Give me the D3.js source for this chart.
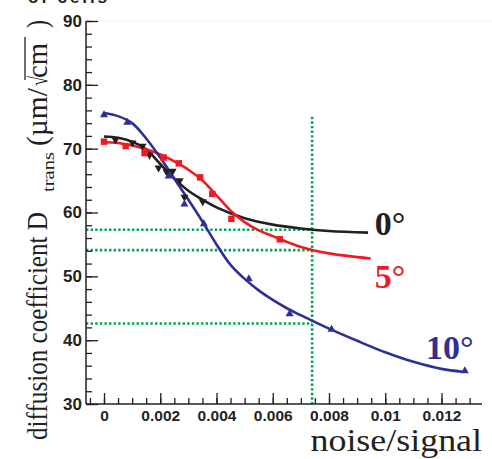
<!DOCTYPE html>
<html><head><meta charset="utf-8">
<script src="https://cdn.jsdelivr.net/npm/d3@7"></script>
<style>body{margin:0;background:#fff}svg{display:block}</style>
</head><body>
<svg id="c" width="492" height="459"></svg>
<script>
// ---- data ----
const yTicks = [30, 40, 50, 60, 70, 80, 90];
const xTicks = [0, 0.002, 0.004, 0.006, 0.008, 0.010, 0.012];
const xTickLabels = ["0", "0.002", "0.004", "0.006", "0.008", "0.01", "0.012"];

// markers
const black0X = [0.00041, 0.00101, 0.00137, 0.00162, 0.00194, 0.00222, 0.00244, 0.00269, 0.00286, 0.00351];
const black0Y = [71.4, 70.9, 70.4, 69.0, 67.0, 66.4, 66.5, 65.0, 62.4, 61.7];
const red5X = [0, 0.00077, 0.00144, 0.00212, 0.00266, 0.00342, 0.00385, 0.00453, 0.00625];
const red5Y = [71.1, 70.4, 69.3, 68.6, 67.7, 65.5, 62.9, 59.0, 55.8];
const blue10X = [0, 0.00083, 0.0023, 0.00286, 0.00355, 0.00515, 0.0066, 0.00809, 0.01283];
const blue10Y = [75.3, 74.1, 65.7, 61.3, 58.2, 49.6, 44.1, 41.7, 35.2];

// fitted curves
const fit0X = [0, 0.0005, 0.001, 0.0015, 0.002, 0.0025, 0.003, 0.0035, 0.004, 0.005, 0.006, 0.007, 0.008, 0.00939];
const fit0Y = [71.9, 71.7, 71.1, 69.9, 67.6, 65.3, 63.4, 62.0, 60.8, 59.1, 58.1, 57.5, 57.1, 56.85];
const fit5X = [0, 0.0005, 0.001, 0.0015, 0.002, 0.0025, 0.003, 0.0035, 0.004, 0.0045, 0.005, 0.0055, 0.006, 0.0065, 0.007, 0.008, 0.00948];
const fit5Y = [71.0, 70.9, 70.5, 69.9, 69.1, 68.0, 66.7, 65.0, 62.7, 60.3, 58.5, 57.2, 56.3, 55.4, 54.6, 53.6, 52.8];
const fit10X = [0, 0.0005, 0.001, 0.0015, 0.002, 0.0025, 0.003, 0.0035, 0.004, 0.0045, 0.005, 0.0055, 0.006, 0.0065, 0.007, 0.008, 0.009, 0.010, 0.011, 0.012, 0.01276];
const fit10Y = [75.6, 75.1, 74.0, 71.6, 68.6, 65.3, 62.0, 58.6, 55.0, 51.8, 49.6, 47.8, 46.3, 45.0, 43.9, 41.8, 39.9, 38.1, 36.6, 35.5, 35.06];

// guide (dotted) lines
const guideX = 0.0074;
const guideXTop = 75;
const guideYs = [57.3, 54.1, 42.6];

const seriesNames = ["0°", "5°", "10°"];
const labelX = [0.00963, 0.00963, 0.01145];
const labelY = [56.5, 48.2, 37.05];

const xAxisExtent = [-0.00064, 0.01344];

// ---- drawing ----
const svg = d3.select("#c");
const x = d3.scaleLinear().domain([0, 0.012]).range([104, 441.5]);
const y = d3.scaleLinear().domain([30, 90]).range([404, 21]);
const colors = ["#231f20", "#ed1c24", "#2e3192"];
const green = "#00a651";
const serif = "'Liberation Serif', 'Times New Roman', Times, serif";
const sans = "'Liberation Sans', Arial, Helvetica, sans-serif";

// clipped top text
svg.append("text").attr("x", 28).attr("y", 3)
  .attr("font-family", sans).attr("font-weight", "bold")
  .attr("font-size", 17).attr("textLength", 79).attr("fill", "#231f20").text("of cells");

// faint frame top
svg.append("line").attr("x1", x(xAxisExtent[0])).attr("x2", 492)
  .attr("y1", y(90)).attr("y2", y(90)).attr("stroke", "#eeeeee").attr("stroke-width", 1);

// guide lines
const g = svg.append("g").attr("stroke", green).attr("stroke-width", 2.6)
  .attr("stroke-dasharray", "2.4,2.2").attr("fill", "none");
g.append("line").attr("x1", x(guideX)).attr("x2", x(guideX)).attr("y1", y(guideXTop)).attr("y2", y(30));
guideYs.forEach(v => g.append("line").attr("x1", x(xAxisExtent[0])).attr("x2", x(guideX))
  .attr("y1", y(v)).attr("y2", y(v)));

// axes
const xMinor = d3.range(-0.0005, 0.01301, 0.0005);
svg.append("g").attr("transform", `translate(0,${y(30)})`)
  .call(d3.axisBottom(x).tickValues(xMinor).tickSize(-6).tickFormat(""))
  .call(s => s.select(".domain").remove());
const yMinor = d3.range(30, 90.01, 2);
svg.append("g").attr("transform", `translate(${x(xAxisExtent[0])},0)`)
  .call(d3.axisLeft(y).tickValues(yMinor).tickSize(-6).tickFormat(""))
  .call(s => s.select(".domain").remove());

const xa = svg.append("g").attr("transform", `translate(0,${y(30)})`)
  .call(d3.axisBottom(x).tickValues(xTicks).tickSize(-11).tickPadding(6)
    .tickFormat((d, i) => xTickLabels[i]));
xa.select(".domain").remove();
xa.selectAll("text").attr("font-family", sans).attr("font-weight", "bold")
  .attr("font-size", 15.5).attr("fill", "#231f20");

const ya = svg.append("g").attr("transform", `translate(${x(xAxisExtent[0])},0)`)
  .call(d3.axisLeft(y).tickValues(yTicks).tickSize(-12).tickPadding(4));
ya.select(".domain").remove();
ya.selectAll("text").attr("font-family", sans).attr("font-weight", "bold")
  .attr("font-size", 17).attr("fill", "#231f20");
svg.selectAll(".tick line").attr("stroke", "#231f20").attr("stroke-width", 1.3);

// axis lines
svg.append("line").attr("x1", x(xAxisExtent[0])).attr("x2", x(xAxisExtent[1]))
  .attr("y1", y(30)).attr("y2", y(30)).attr("stroke", "#231f20").attr("stroke-width", 1.5);
svg.append("line").attr("x1", x(xAxisExtent[0])).attr("x2", x(xAxisExtent[0]))
  .attr("y1", y(90)).attr("y2", y(30)).attr("stroke", "#231f20").attr("stroke-width", 1.5);

// curves
const line = d3.line().x(d => x(d[0])).y(d => y(d[1])).curve(d3.curveCatmullRom.alpha(0.5));
const fits = [[fit0X, fit0Y], [fit5X, fit5Y], [fit10X, fit10Y]];
fits.forEach(([xs, ys], i) => {
  svg.append("path").datum(xs.map((v, j) => [v, ys[j]])).attr("d", line)
    .attr("fill", "none").attr("stroke", colors[i]).attr("stroke-width", 2.6);
});

// markers
const sym = [d3.symbol().type(d3.symbolTriangle).size(28), d3.symbol().type(d3.symbolSquare).size(42), d3.symbol().type(d3.symbolTriangle).size(28)];
const marks = [[black0X, black0Y], [red5X, red5Y], [blue10X, blue10Y]];
marks.forEach(([xs, ys], i) => {
  svg.append("g").selectAll("path").data(xs.map((v, j) => [v, ys[j]])).join("path")
    .attr("d", sym[i]())
    .attr("transform", d => `translate(${x(d[0])},${y(d[1])})` + (i === 0 ? " rotate(180)" : ""))
    .attr("fill", colors[i]);
});

// series labels
seriesNames.forEach((t, i) => {
  svg.append("text").attr("x", x(labelX[i])).attr("y", y(labelY[i]))
    .attr("font-family", serif).attr("font-weight", "bold")
    .attr("font-size", 34).attr("fill", colors[i]).text(t);
});

// x axis title
svg.append("text").attr("transform", "translate(482,451) scale(1.14,1)")
  .attr("text-anchor", "end").attr("font-family", serif)
  .attr("font-size", 31.5).attr("fill", "#231f20").text("noise/signal");

// y axis title (pieces laid along the rotated baseline)
const yTitle = svg.append("g").attr("fill", "#231f20").attr("font-family", serif);
function vtext(str, bx, yStart, len, size) {
  return yTitle.append("text").attr("transform", `translate(${bx},${yStart}) rotate(-90)`)
    .attr("font-size", size).attr("textLength", len).attr("lengthAdjust", "spacingAndGlyphs").text(str);
}
vtext("diffusion coefficient D", 47, 440, 228, 30);
vtext("trans", 54, 192, 40, 16);
vtext("(\u00b5m/", 47, 146, 58, 30);
vtext("\u221a", 47, 86, 10, 26);
vtext("cm", 47, 78, 35, 30);
vtext(")", 47, 28, 8, 30);
yTitle.append("line").attr("x1", 25).attr("x2", 25).attr("y1", 80).attr("y2", 37)
  .attr("stroke", "#231f20").attr("stroke-width", 1.3);
</script>
</body></html>
